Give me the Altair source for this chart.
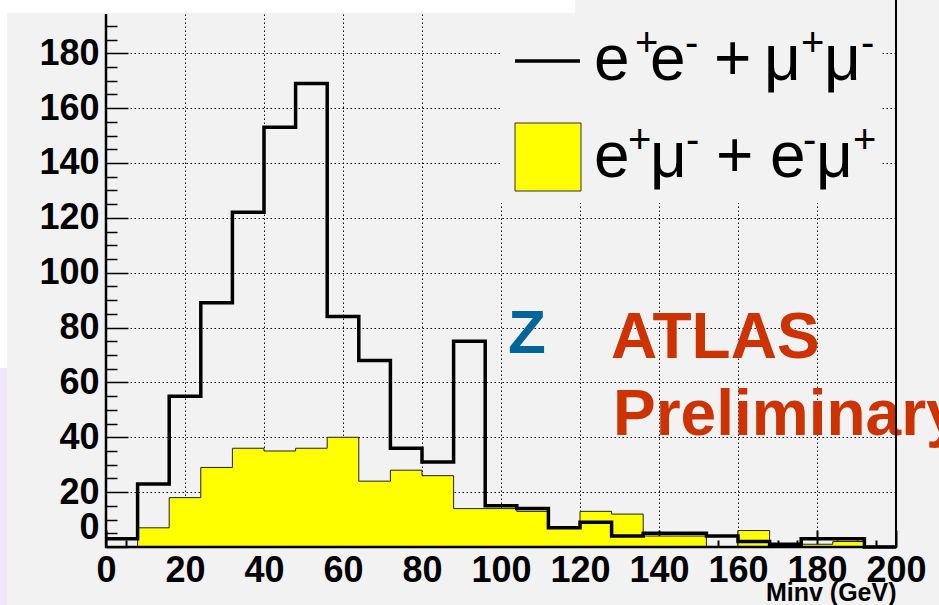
import altair as alt
import pandas as pd

# ---- data ----
BIN_LO = [0, 8, 16, 24, 32, 40, 48, 56, 64, 72, 80, 88, 96, 104, 112, 120,
          128, 136, 144, 152, 160, 168, 176, 184, 192]
X_MAX = 200
SAME_FLAVOR = [3, 23, 55, 89, 122, 153, 169, 84, 68, 36, 31, 75, 15, 14, 7, 9,
               4, 5, 5, 4, 2, 1, 3, 3, 0]          # e+e- + mu+mu-
OPP_FLAVOR = [0, 7, 18, 29, 36, 35, 36, 40, 24, 28, 26, 14, 14, 13, 7, 13,
              12, 4, 4, 0, 6, 0, 1, 2, 0]          # e+mu- + e-mu+
X_LABELS = [0, 20, 40, 60, 80, 100, 120, 140, 160, 180, 200]
Y_LABELS = [0, 20, 40, 60, 80, 100, 120, 140, 160, 180]
X_MINOR = [v for v in range(0, 200, 5) if v % 20]
Y_MINOR = [v for v in range(0, 195, 5) if v % 20]
# legend labels as (text, is_superscript) pieces
LEG1 = [("e", 0), ("+", 1), ("e", 0), ("-", 1), ("+", 0), ("μ", 0), ("+", 1), ("μ", 0), ("-", 1)]
LEG2 = [("e", 0), ("+", 1), ("μ", 0), ("-", 1), ("+", 0), ("e", 0), ("-", 1), ("μ", 0), ("+", 1)]

# ---- layout / style ----
W, H = 790, 533
L, T = 106, 14
Y_TOP = 194.3
BG = "#f2f2f2"
FONT = "Liberation Sans"
LEG1_X = [594, 635, 650, 685, 714, 764, 801, 824, 861]
LEG2_X = [594, 628, 650, 686, 716, 770, 803, 816, 853]
LEG1_BASE, LEG2_BASE = 80, 177
XMAJ_LEN, XMIN_LEN, YMAJ_LEN, YMIN_LEN = 17, 7, 22, 11

step_sf = pd.DataFrame({"x": BIN_LO + [X_MAX], "y": SAME_FLAVOR + [SAME_FLAVOR[-1]]})
step_of = pd.DataFrame({"x": BIN_LO + [X_MAX], "y": OPP_FLAVOR + [OPP_FLAVOR[-1]]})

xs = alt.Scale(domain=[0, X_MAX], nice=False, zero=False)
ys = alt.Scale(domain=[0, Y_TOP], nice=False, zero=False)

label_style = dict(labelFont=FONT, labelFontWeight="bold", labelFontSize=36,
                   labelColor="black", domain=False, labelOverlap=False,
                   grid=True, gridDash=[1.5, 2.5], gridColor="black",
                   gridWidth=1, gridOpacity=1, tickColor="black")

# major axes: ticks drawn inward (negative length through an expression)
xaxis = alt.Axis(orient="bottom", values=X_LABELS, format="d",
                 ticks=True, tickSize=alt.ExprRef(expr=str(-XMAJ_LEN)), tickWidth=2,
                 labelPadding=6 + XMAJ_LEN, labelFlush=False,
                 title="Minv (GeV)", titleFont=FONT, titleFontSize=25,
                 titleFontWeight="bold", titleColor="black", titleAnchor="end",
                 titleAlign="right", titleBaseline="alphabetic",
                 titleX=W, titleY=53, **label_style)
yaxis = alt.Axis(orient="left", values=Y_LABELS, format="d",
                 ticks=True, tickSize=alt.ExprRef(expr=str(-YMAJ_LEN)), tickWidth=1.5,
                 labelPadding=7 + YMAJ_LEN, title=None,
                 labelOffset={"condition": {"test": "datum.value === 0", "value": -20},
                              "value": 0},
                 **label_style)
# minor-tick-only axes
minor_common = dict(labels=False, domain=False, grid=False, title=None, ticks=True,
                    tickColor="black")
xaxis_minor = alt.Axis(orient="bottom", values=X_MINOR, tickWidth=2,
                       tickSize=alt.ExprRef(expr=str(-XMIN_LEN)), **minor_common)
yaxis_minor = alt.Axis(orient="left", values=Y_MINOR, tickWidth=1.5,
                       tickSize=alt.ExprRef(expr=str(-YMIN_LEN)), **minor_common)

one = alt.Data(values=[{"k": 1}])


def px(v):
    return alt.value(v - L)


def py(v):
    return alt.value(v - T)


def X(f):
    return alt.X(f, scale=xs, axis=xaxis)


def Y(f):
    return alt.Y(f, scale=ys, axis=yaxis)


# ---------- main layer (major axes) ----------
yellow = alt.Chart(step_of).mark_area(interpolate="step-after", color="#ffff00").encode(
    x=X("x:Q"), y=Y("y:Q"), y2=alt.datum(0))
yellow_line = alt.Chart(step_of).mark_line(
    interpolate="step-after", color="#222222", strokeWidth=1
).encode(x=X("x:Q"), y=Y("y:Q"))
black_line = alt.Chart(step_sf).mark_line(
    interpolate="step-after", color="black", strokeWidth=3.5
).encode(x=X("x:Q"), y=Y("y:Q"))
main = alt.layer(yellow, yellow_line, black_line)

# ---------- carrier of the minor-tick axes (invisible mark) ----------
minor = alt.Chart(step_sf).mark_line(opacity=0).encode(
    x=alt.X("x:Q", scale=xs, axis=xaxis_minor),
    y=alt.Y("y:Q", scale=ys, axis=yaxis_minor))

# frame lines
yline = alt.Chart(one).mark_rule(color="black", strokeWidth=2.5).encode(
    x=alt.value(0), y=alt.value(0), y2=alt.value(H + 1))
xline = alt.Chart(one).mark_rule(color="black", strokeWidth=2.5).encode(
    x=alt.value(-1), x2=alt.value(W + 1), y=alt.value(H))
rline = alt.Chart(one).mark_rule(color="black", strokeWidth=2).encode(
    x=alt.value(W), y=alt.value(-T), y2=alt.value(H))

# white title box at top-left and page strip at left
wbox = alt.Chart(one).mark_rect(color="white", clip=False).encode(
    x=px(0), x2=px(575), y=py(0), y2=py(13))
wstrip = alt.Chart(one).mark_rect(color="white", clip=False).encode(
    x=px(0), x2=px(7), y=py(0), y2=py(368))
lstrip = alt.Chart(one).mark_rect(color="#efe6fa", clip=False).encode(
    x=px(0), x2=px(7), y=py(368), y2=py(605))

# legend
legbox = alt.Chart(one).mark_rect(color=BG).encode(
    x=px(501), x2=px(880), y=py(13), y2=py(203))
legline = alt.Chart(one).mark_rule(color="black", strokeWidth=3.5).encode(
    x=px(515), x2=px(580), y=py(61))
legrect = alt.Chart(one).mark_rect(color="#ffff00", stroke="#333333", strokeWidth=1).encode(
    x=px(515), x2=px(581), y=py(123), y2=py(191))

leg_layers = []
for pieces, xs_px, base in ((LEG1, LEG1_X, LEG1_BASE), (LEG2, LEG2_X, LEG2_BASE)):
    for (txt, sup), xp in zip(pieces, xs_px):
        leg_layers.append(
            alt.Chart(one).mark_text(text=txt, font=FONT, fontSize=40 if sup else 64,
                                     align="left", baseline="alphabetic",
                                     color="black").encode(
                x=px(xp), y=py(base - 24 if sup else base)))

# annotations
ztext = alt.Chart(one).mark_text(text="Z", font=FONT, fontSize=62, fontWeight="bold",
                                 align="left", baseline="alphabetic", color="#006699").encode(
    x=px(508), y=py(353))
atlas = alt.Chart(one).mark_text(text="ATLAS", font=FONT, fontSize=64, fontWeight="bold",
                                 align="left", baseline="alphabetic", color="#cc3300").encode(
    x=px(611), y=py(358))
prelim = alt.Chart(one).mark_text(text="Preliminary", font=FONT, fontSize=64, fontWeight="bold",
                                  align="left", baseline="alphabetic", color="#cc3300",
                                  clip=False).encode(
    x=px(613), y=py(435))

decor = alt.layer(legbox, legline, legrect, *leg_layers, ztext, atlas, prelim,
                  yline, xline, rline, wbox, wstrip, lstrip)

chart = alt.layer(main, minor, decor).resolve_axis(
    x="independent", y="independent"
).properties(
    width=W, height=H,
    autosize=alt.AutoSizeParams(type="none"),
    padding={"left": L, "top": T, "right": 939 - L - W, "bottom": 605 - T - H},
    background=BG,
).configure_view(fill=BG, stroke=None).configure_axis(zindex=1)

chart.save("out.html", embed_options={"renderer": "svg", "actions": False})
